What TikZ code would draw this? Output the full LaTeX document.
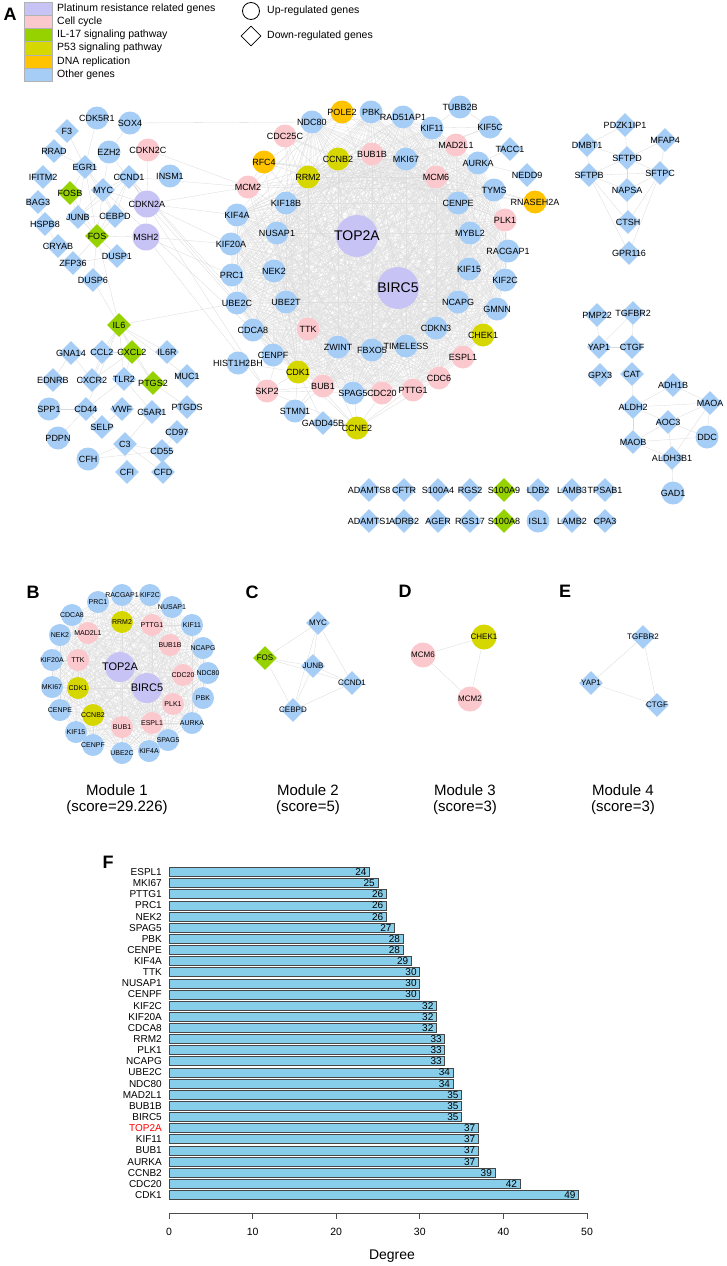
\documentclass[tikz,border=0pt]{standalone}
\usepackage{fontspec}
\setmainfont{Liberation Sans}
\usetikzlibrary{shapes.geometric}
\pgfdeclarelayer{bg}
\pgfsetlayers{bg,main}
\definecolor{ptcol}{RGB}{200,195,245}
\definecolor{cccol}{RGB}{250,200,205}
\definecolor{ilcol}{RGB}{150,210,0}
\definecolor{p5col}{RGB}{215,215,0}
\definecolor{dnacol}{RGB}{255,195,0}
\definecolor{otcol}{RGB}{165,205,245}
\definecolor{barcol}{RGB}{135,206,235}

\begin{document}
\begin{tikzpicture}[x=1pt, y=-1pt,
    every node/.style={font=\fontsize{9}{10}\selectfont, inner sep=0pt},
    up/.style={circle, fill=otcol, minimum size=23pt, label={center:#1}},
    dn/.style={diamond, fill=otcol, minimum size=24pt, label={center:#1}},
    big/.style={circle, fill=ptcol, minimum size=42pt, label={[font=\fontsize{14}{16}\selectfont]center:#1}},
    mup/.style={circle, fill=otcol, minimum size=22pt, label={[font=\fontsize{7}{8}\selectfont]center:#1}},
    mbig/.style={circle, fill=ptcol, minimum size=30pt, label={[font=\fontsize{11}{12}\selectfont]center:#1}},
    sup/.style={circle, fill=otcol, minimum size=25pt, label={[font=\fontsize{8}{9}\selectfont]center:#1}},
    sdn/.style={diamond, fill=otcol, minimum size=24pt, label={[font=\fontsize{8}{9}\selectfont]center:#1}},
    lnk/.style={draw=gray!30, line width=0.3pt},
    mesh/.style={draw=gray!25, line width=0.25pt},
    panel/.style={font=\fontsize{18}{18}\selectfont\bfseries},
    modtxt/.style={font=\fontsize{15}{16}\selectfont},
    barbox/.style={fill=barcol, draw=gray!55!black, line width=0.8pt},
    axisline/.style={draw=gray!60!black, line width=0.8pt}]

\useasboundingbox (0,0) rectangle (726,1266);

%Legend
\node[panel] (labA) at (10,14) {A};
\foreach \c/\t [count=\i from 0] in {ptcol/Platinum resistance related genes, cccol/Cell cycle, ilcol/IL-17 signaling pathway, p5col/P53 signaling pathway, dnacol/DNA replication, otcol/Other genes}{
  \draw[fill=\c, draw=gray!60] (24,{2+\i*13.2}) rectangle (52,{15.2+\i*13.2});
  \node[anchor=west, font=\fontsize{10.5}{12}\selectfont] (leg\i) at (57,{8.6+\i*13.2}) {\t};
}
\node[circle, draw, thick, minimum size=17pt] (legup) at (251,11) {};
\node[anchor=west, font=\fontsize{10.5}{12}\selectfont] (legupt) at (267,11) {Up-regulated genes};
\node[diamond, draw, thick, minimum size=20pt] (legdn) at (251,36) {};
\node[anchor=west, font=\fontsize{10.5}{12}\selectfont] (legdnt) at (267,36) {Down-regulated genes};

%Network A: up-regulated genes
\foreach \n/\x/\y in {CDK5R1/97/118, SOX4/130/123, EZH2/109/152, INSM1/170/176, SPP1/49/409, PDPN/58/438, CFH/88/459,
  NDC80/312/122, PBK/371/112, RAD51AP1/403/117, KIF18B/286/203, KIF4A/237/215, NUSAP1/277/233, KIF20A/231/244,
  TUBB2B/460/107, KIF11/432/128, KIF5C/490/127, MKI67/406/159, AURKA/478/163, TYMS/494/190, CENPE/458/203,
  MYBL2/470/233, RACGAP1/508/251, NEK2/274/271, PRC1/232/275, UBE2C/237/303, UBE2T/286/302, CDCA8/253/330,
  ZWINT/338/347, FBXO5/372/350, CENPF/273/355, HIST1H2BH/238/363, SPAG5/353/393, STMN1/295/411, TIMELESS/406/346,
  KIF15/469/269, KIF2C/505/280, NCAPG/458/302, GMNN/497/309, CDKN3/436/328, DDC/707/437, GAD1/673/493, ISL1/538/521}
  \node[up=\n] (\n) at (\x,\y) {};
\foreach \n/\x/\y in {CDKN2C/148/150, CDC25C/285/136, BUB1B/372/154, MCM2/248/187, MAD2L1/456/145, MCM6/436/177,
  PLK1/505/220, TTK/308/329, BUB1/323/386, SKP2/267/391, CDC20/382/393, ESPL1/463/357, CDC6/439/378, PTTG1/413/390}
  \node[up=\n, fill=cccol] (\n) at (\x,\y) {};
\foreach \n/\x/\y in {CCNB2/338/159, RRM2/308/177, CDK1/298/372, CCNE2/357/428, CHEK1/483/335}
  \node[up=\n, fill=p5col] (\n) at (\x,\y) {};
\foreach \n/\x/\y in {POLE2/342/112, RFC4/264/162, RNASEH2A/535/202}
  \node[up=\n, fill=dnacol] (\n) at (\x,\y) {};
\foreach \n/\x/\y in {CDKN2A/147/204, MSH2/146/237}
  \node[up=\n, fill=ptcol, minimum size=27pt] (\n) at (\x,\y) {};
\node[big=TOP2A] (TOP2A) at (357,236) {};
\node[big=BIRC5] (BIRC5) at (398,288) {};

%Network A: down-regulated genes
\foreach \n/\x/\y in {FOSB/70/193, FOS/97/236, IL6/119/325, CXCL2/132/352, PTGS2/153/383, S100A9/504/490, S100A8/504/521}
  \node[dn=\n, fill=ilcol] (\n) at (\x,\y) {};
\foreach \n/\x/\y in {F3/67/131, RRAD/54/151, EGR1/85/167, IFITM2/43/177, CCND1/129/177, MYC/103/190, BAG3/38/202,
  JUNB/78/217, CEBPD/115/216, HSPB8/45/224, CRYAB/58/246, DUSP1/117/256, ZFP36/73/263, DUSP6/93/280,
  GNA14/71/353, CCL2/102/352, IL6R/167/352, EDNRB/53/380, CXCR2/92/380, TLR2/124/379, MUC1/187/376,
  CD44/86/409, VWF/122/409, C5AR1/152/412, PTGDS/187/407, SELP/102/427, C3/125/444, CD97/177/432,
  CD55/162/451, CFI/127/472, CFD/163/472, GADD45B/323/423, TACC1/510/149, NEDD9/527/175,
  PDZK1IP1/625/125, MFAP4/665/140, DMBT1/587/145, SFTPD/627/158, SFTPB/589/175, SFTPC/660/173,
  NAPSA/627/190, CTSH/628/222, GPR116/629/253, PMP22/597/315, TGFBR2/633/313, YAP1/599/347, CTGF/632/347,
  GPX3/600/375, CAT/632/374, ADH1B/673/385, MAOA/710/403, ALDH2/633/407, AOC3/668/422, MAOB/633/442,
  ALDH3B1/672/458, ADAMTS8/369/490, CFTR/404/490, S100A4/438/490, RGS2/470/490, LDB2/538/490,
  LAMB3/572/490, TPSAB1/605/490, ADAMTS1/369/521, ADRB2/404/521, AGER/438/521, RGS17/470/521,
  LAMB2/572/521, CPA3/605/521}
  \node[dn=\n] (\n) at (\x,\y) {};

%Module 1
\node[panel] (labB) at (33,592) {B};
\foreach \n/\x/\y in {PRC1/98/602, RACGAP1/122/595, KIF2C/150/595, NUSAP1/172/607, CDCA8/72/615, KIF11/192/625,
  NEK2/60/635, NCAPG/203/648, KIF20A/52/660, NDC80/208/673, MKI67/52/687, PBK/203/698, CENPE/60/710,
  AURKA/192/723, KIF15/76/732, SPAG5/168/740, CENPF/93/745, UBE2C/122/753, KIF4A/149/751}
  \node[mup=\n] (b\n) at (\x,\y) {};
\foreach \n/\x/\y in {MAD2L1/88/633, PTTG1/152/625, BUB1B/170/645, TTK/78/660, CDC20/183/675, PLK1/173/704,
  BUB1/122/727, ESPL1/152/723}
  \node[mup=\n, fill=cccol] (b\n) at (\x,\y) {};
\foreach \n/\x/\y in {RRM2/122/622, CDK1/78/688, CCNB2/93/715}
  \node[mup=\n, fill=p5col] (b\n) at (\x,\y) {};
\node[mbig=TOP2A] (bTOP2A) at (120,667) {};
\node[mbig=BIRC5] (bBIRC5) at (147,688) {};
\node[modtxt] (mod1a) at (117,790) {Module 1};
\node[modtxt] (mod1b) at (117,808) {(score=29.226)};

%Module 2
\node[panel] (labC) at (252,592) {C};
\node[sdn=FOS, fill=ilcol] (cFOS) at (265,658) {};
\foreach \n/\x/\y in {MYC/318/623, JUNB/313/666, CCND1/352/683, CEBPD/293/710}
  \node[sdn=\n] (c\n) at (\x,\y) {};
\node[modtxt] (mod2a) at (308,790) {Module 2};
\node[modtxt] (mod2b) at (308,808) {(score=5)};

%Module 3
\node[panel] (labD) at (405,591) {D};
\node[sup=CHEK1, fill=p5col] (dCHEK1) at (484,637) {};
\node[sup=MCM6, fill=cccol] (dMCM6) at (423,655) {};
\node[sup=MCM2, fill=cccol] (dMCM2) at (470,699) {};
\node[modtxt] (mod3a) at (465,790) {Module 3};
\node[modtxt] (mod3b) at (465,808) {(score=3)};

%Module 4
\node[panel] (labE) at (565,591) {E};
\node[sdn=TGFBR2] (eTGFBR2) at (643,637) {};
\node[sdn=YAP1] (eYAP1) at (591,683) {};
\node[sdn=CTGF] (eCTGF) at (657,705) {};
\node[modtxt] (mod4a) at (623,790) {Module 4};
\node[modtxt] (mod4b) at (623,808) {(score=3)};

%Edges
\def\corelist{TOP2A,BIRC5,NDC80,PBK,RAD51AP1,BUB1B,CCNB2,RRM2,KIF18B,KIF4A,NUSAP1,KIF20A,KIF11,MAD2L1,MKI67,AURKA,MCM6,TYMS,CENPE,PLK1,MYBL2,RACGAP1,KIF15,KIF2C,NCAPG,GMNN,CDKN3,CHEK1,ESPL1,CDC6,PTTG1,CDC20,SPAG5,BUB1,CDK1,TTK,ZWINT,FBXO5,TIMELESS,CENPF,CDCA8,UBE2T,UBE2C,PRC1,NEK2}
\def\modlist{bPRC1,bRACGAP1,bKIF2C,bNUSAP1,bCDCA8,bKIF11,bNEK2,bNCAPG,bKIF20A,bNDC80,bMKI67,bPBK,bCENPE,bAURKA,bKIF15,bSPAG5,bCENPF,bUBE2C,bKIF4A,bMAD2L1,bPTTG1,bBUB1B,bTTK,bCDC20,bPLK1,bBUB1,bESPL1,bRRM2,bCDK1,bCCNB2,bTOP2A,bBIRC5}
\def\twolist{cFOS,cMYC,cJUNB,cCCND1,cCEBPD}
\begin{pgfonlayer}{bg}
  \foreach \a [count=\i] in \corelist {
    \foreach \b [count=\j] in \corelist {
      \ifnum\j>\i \draw[mesh] (\a) -- (\b); \fi
    }
  }
  \foreach \a [count=\i] in \modlist {
    \foreach \b [count=\j] in \modlist {
      \ifnum\j>\i \draw[mesh] (\a) -- (\b); \fi
    }
  }
  \foreach \a [count=\i] in \twolist {
    \foreach \b [count=\j] in \twolist {
      \ifnum\j>\i \draw[lnk] (\a) -- (\b); \fi
    }
  }
  \foreach \a/\b in {dCHEK1/dMCM6, dCHEK1/dMCM2, dMCM6/dMCM2, eTGFBR2/eYAP1, eTGFBR2/eCTGF, eYAP1/eCTGF}
    \draw[lnk] (\a) -- (\b);
  % outer ring of the big network
  \foreach \a/\b in {CDC25C/CDK1, CDC25C/CCNB2, CDC25C/PLK1, CDC25C/CHEK1, CDC25C/CDC20, CDC25C/BUB1,
    POLE2/MCM6, POLE2/RRM2, POLE2/TYMS, POLE2/RFC4, POLE2/MCM2, POLE2/CDC6,
    RFC4/MCM2, RFC4/MCM6, RFC4/RRM2, RFC4/CDC6, RFC4/TYMS, RFC4/CDK1,
    MCM2/MCM6, MCM2/CDK1, MCM2/CHEK1, MCM2/RRM2, MCM2/CDC6, MCM2/TYMS, MCM2/CCNB2, MCM2/CDC20,
    TUBB2B/KIF11, TUBB2B/KIF5C, KIF5C/KIF11, KIF5C/KIF18B, KIF5C/KIF4A, TACC1/AURKA, NEDD9/AURKA,
    RNASEH2A/TYMS, RNASEH2A/RRM2, RNASEH2A/MCM6, RNASEH2A/RFC4, HIST1H2BH/CDK1,
    SKP2/CDK1, SKP2/CCNE2, SKP2/CDC20, SKP2/BUB1, SKP2/CCNB2, STMN1/CDK1, STMN1/PLK1, STMN1/AURKA,
    GADD45B/CDK1, GADD45B/CCNE2, CCNE2/CDK1, CCNE2/CHEK1, CCNE2/CDC6, CCNE2/MCM2, CCNE2/CCNB2, CCNE2/CDC20}
    \draw[lnk] (\a) -- (\b);
  % left groups
  \foreach \a/\b in {CDK5R1/EGR1, F3/EGR1, RRAD/EGR1, EZH2/MYC, EZH2/CDKN2A, SOX4/EZH2, EGR1/FOSB, EGR1/JUNB,
    EGR1/MYC, EGR1/FOS, EGR1/CEBPD, FOSB/JUNB, FOSB/FOS, MYC/CCND1, MYC/JUNB, MYC/CEBPD, MYC/FOS, MYC/CDKN2A,
    CCND1/CDKN2A, CCND1/JUNB, CCND1/CEBPD, CCND1/FOS, JUNB/FOS, JUNB/CEBPD, CEBPD/FOS, FOS/DUSP1, FOS/ZFP36,
    FOS/DUSP6, JUNB/DUSP1, BAG3/HSPB8, HSPB8/CRYAB, ZFP36/DUSP1, FOS/IL6, FOS/MSH2, CDKN2A/MSH2,
    SOX4/NDC80, CDKN2C/MCM2, CDKN2C/CDKN2A, CDKN2A/MCM2, CDKN2A/KIF4A, CDKN2A/KIF20A, CDKN2A/CDK1,
    CCND1/MCM2, CCND1/CDK1, CCND1/SKP2, CCND1/CCNE2, MYC/CDK1, MSH2/KIF20A, MSH2/SKP2, MSH2/PRC1, IL6/UBE2C,
    IL6/CCL2, IL6/CXCL2, IL6/IL6R, IL6/PTGS2, IL6/TLR2, IL6/CXCR2, IL6/CD44, IL6/MUC1, IL6/DUSP6,
    CCL2/CXCR2, CCL2/CXCL2, CXCL2/CXCR2, CXCL2/PTGS2, CXCL2/TLR2, TLR2/CD44, TLR2/C5AR1, TLR2/PTGS2,
    GNA14/EDNRB, GNA14/CXCR2, SPP1/CD44, CD44/SELP, SELP/VWF, C3/C5AR1, C3/CFH, C3/CFI, C3/CFD, C3/CD55,
    CD55/CD97, CFH/CD55, PTGS2/PTGDS, PDPN/CD44}
    \draw[lnk] (\a) -- (\b);
  % right groups
  \foreach \a/\b in {PDZK1IP1/DMBT1, PDZK1IP1/SFTPD, MFAP4/SFTPD, MFAP4/SFTPC, DMBT1/SFTPD, DMBT1/SFTPB,
    SFTPD/SFTPB, SFTPD/SFTPC, SFTPB/SFTPC, SFTPB/NAPSA, SFTPC/NAPSA, SFTPD/NAPSA, SFTPB/CTSH, SFTPC/CTSH,
    SFTPB/GPR116, SFTPC/GPR116, NAPSA/CTSH, PMP22/YAP1, TGFBR2/CTGF, TGFBR2/YAP1, YAP1/CTGF, CAT/ALDH2,
    ADH1B/ALDH2, ADH1B/MAOA, ALDH2/MAOA, ALDH2/AOC3, ALDH2/MAOB, AOC3/MAOA, AOC3/DDC, AOC3/ALDH3B1,
    AOC3/MAOB, MAOB/DDC, MAOB/ALDH3B1, MAOA/ALDH3B1, MAOA/DDC, ALDH3B1/GAD1}
    \draw[lnk] (\a) -- (\b);
\end{pgfonlayer}

%Degree bar chart
\node[panel] (labF) at (108,862) {F};
\foreach \g/\v/\c [count=\i from 0] in {ESPL1/24/black, MKI67/25/black, PTTG1/26/black, PRC1/26/black, NEK2/26/black,
  SPAG5/27/black, PBK/28/black, CENPE/28/black, KIF4A/29/black, TTK/30/black, NUSAP1/30/black, CENPF/30/black,
  KIF2C/32/black, KIF20A/32/black, CDCA8/32/black, RRM2/33/black, PLK1/33/black, NCAPG/33/black, UBE2C/34/black,
  NDC80/34/black, MAD2L1/35/black, BUB1B/35/black, BIRC5/35/black, TOP2A/37/red, KIF11/37/black, BUB1/37/black,
  AURKA/37/black, CCNB2/39/black, CDC20/42/black, CDK1/49/black}{
  \pgfmathsetmacro\yy{872+\i*11.14}
  \pgfmathsetmacro\xx{169+\v*8.36}
  \draw[barbox] (169,{\yy-4.5}) rectangle (\xx,{\yy+4.5});
  \node[anchor=east, text=\c, font=\fontsize{10}{11}\selectfont] (gene\i) at (162,\yy) {\g};
  \node[anchor=east, font=\fontsize{10}{11}\selectfont] (deg\i) at ({\xx-3},\yy) {\v};
}
\draw[axisline] (169,1213) -- (587,1213);
\foreach \t in {0,10,...,50}{
  \draw[axisline] ({169+\t*8.36},1213) -- ++(0,6);
  \node[font=\fontsize{10.5}{12}\selectfont] (tick\t) at ({169+\t*8.36},1232) {\t};
}
\node[font=\fontsize{14}{16}\selectfont] (xlab) at (392,1256) {Degree};
\end{tikzpicture}
\end{document}
